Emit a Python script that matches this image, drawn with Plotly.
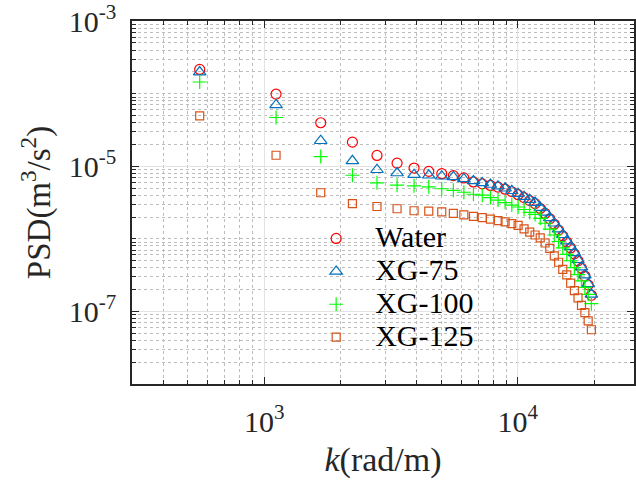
import plotly.graph_objects as go

k = [557, 1114, 1671, 2228, 2785, 3342, 3899, 4456, 5013, 5570,
     6127, 6684, 7241, 7798, 8355, 8912, 9469, 10026, 10583, 11140,
     11697, 12254, 12811, 13368, 13925, 14482, 15039, 15596, 16153, 16710,
     17267, 17824, 18381, 18938, 19495]

water = [2.16e-4, 9.88e-5, 3.98e-5, 2.15e-5, 1.41e-5, 1.105e-5, 9.45e-6, 8.52e-6, 7.91e-6, 7.43e-6,
         6.91e-6, 6.09e-6, 5.73e-6, 5.44e-6, 5.16e-6, 4.83e-6, 4.46e-6, 4.06e-6, 3.70e-6, 3.36e-6,
         3.06e-6, 2.62e-6, 2.24e-6, 1.89e-6, 1.59e-6, 1.32e-6, 1.10e-6, 9.04e-7, 7.50e-7, 6.21e-7,
         4.99e-7, 3.94e-7, 3.07e-7, 2.32e-7, 1.67e-7]

xg75 = [1.99e-4, 7.00e-5, 2.25e-5, 1.19e-5, 8.96e-6, 8.08e-6, 7.66e-6, 7.52e-6, 7.29e-6, 7.13e-6,
        6.70e-6, 6.29e-6, 5.91e-6, 5.61e-6, 5.33e-6, 4.98e-6, 4.60e-6, 4.19e-6, 3.82e-6, 3.47e-6,
        3.16e-6, 2.70e-6, 2.31e-6, 1.95e-6, 1.64e-6, 1.36e-6, 1.14e-6, 9.33e-7, 7.74e-7, 6.41e-7,
        5.15e-7, 4.07e-7, 3.17e-7, 2.39e-7, 1.72e-7]

xg100 = [1.45e-4, 4.70e-5, 1.36e-5, 7.52e-6, 5.91e-6, 5.50e-6, 5.38e-6, 5.22e-6, 4.90e-6, 4.67e-6,
         4.39e-6, 4.12e-6, 4.00e-6, 3.70e-6, 3.42e-6, 3.16e-6, 2.92e-6, 2.75e-6, 2.54e-6, 2.31e-6,
         2.17e-6, 1.92e-6, 1.64e-6, 1.36e-6, 1.13e-6, 9.19e-7, 7.50e-7, 6.12e-7, 4.99e-7, 4.01e-7,
         3.22e-7, 2.63e-7, 2.15e-7, 1.72e-7, 1.28e-7]

xg125 = [4.96e-5, 1.42e-5, 4.32e-6, 3.06e-6, 2.79e-6, 2.60e-6, 2.44e-6, 2.41e-6, 2.36e-6, 2.24e-6,
         2.14e-6, 2.04e-6, 1.96e-6, 1.87e-6, 1.78e-6, 1.71e-6, 1.62e-6, 1.53e-6, 1.37e-6, 1.24e-6,
         1.13e-6, 1.03e-6, 8.77e-7, 7.38e-7, 5.84e-7, 4.76e-7, 3.80e-7, 3.19e-7, 2.45e-7, 1.93e-7,
         1.54e-7, 1.21e-7, 9.60e-8, 7.41e-8, 5.59e-8]

series_names = ["Water", "XG-75", "XG-100", "XG-125"]
series_colors = ["#FF0000", "#0072BD", "#00FF00", "#D95319"]
series_symbols = ["circle-open", "triangle-up-open", "cross-thin-open", "square-open"]
series_sizes = [10, 11, 10, 8]

x_tickvals = [1e3, 1e4]
x_ticktext = ["10<sup>3</sup>", "10<sup>4</sup>"]
x_minor = [300, 400, 500, 600, 700, 800, 900,
           2000, 3000, 4000, 5000, 6000, 7000, 8000, 9000, 20000]
y_tickvals = [1e-3, 1e-5, 1e-7]
y_ticktext = ["10<sup>-3</sup>", "10<sup>-5</sup>", "10<sup>-7</sup>"]
y_minor = []
for e in [-8, -7, -6, -5, -4]:
    for m in range(1, 10):
        v = m * 10.0 ** e
        if not (m == 1 and e in (-7, -5)):
            y_minor.append(v)

fig = go.Figure()
data = [water, xg75, xg100, xg125]
for name, vals, col, sym, sz in zip(series_names, data, series_colors, series_symbols, series_sizes):
    fig.add_trace(go.Scatter(
        x=k, y=vals, mode="markers",
        name="<span style='font-size:30px'>" + name + "</span>",
        marker=dict(symbol=sym, size=sz, color=col, line=dict(color=col, width=1.2)),
    ))

axis_col = "#262626"
font_family = "Liberation Serif"

fig.update_layout(
    width=636, height=486,
    margin=dict(l=132, r=0, t=16, b=102),
    paper_bgcolor="white", plot_bgcolor="white",
    font=dict(family=font_family, size=30, color=axis_col),
    showlegend=True,
    legend=dict(x=0.329, y=0.46, xanchor="left", yanchor="top",
                bgcolor="rgba(0,0,0,0)", font=dict(size=23, color="#000000"),
                itemsizing="trace", itemwidth=68, tracegroupgap=0),
    xaxis=dict(
        type="log", range=[2.479, 4.458],
        tickmode="array", tickvals=x_tickvals, ticktext=x_ticktext,
        ticks="inside", ticklen=7, tickwidth=1.3, tickcolor=axis_col,
        showline=True, linecolor=axis_col, linewidth=1.5, mirror="ticks",
        showgrid=True, gridcolor="#E3E3E3", gridwidth=1,
        zeroline=False, ticklabelstandoff=10, ticklabeloverflow="allow",
        tickfont=dict(size=30),
        title=dict(text="<i>k</i>(rad/m)", font=dict(size=34), standoff=10),
        minor=dict(tickmode="array", tickvals=x_minor, ticks="inside", ticklen=4,
                   tickwidth=1, tickcolor=axis_col, showgrid=True,
                   gridcolor="#BDBDBD", griddash="dot", gridwidth=1),
    ),
    yaxis=dict(
        type="log", range=[-8, -2.998],
        tickmode="array", tickvals=y_tickvals, ticktext=y_ticktext,
        ticks="inside", ticklen=7, tickwidth=1.3, tickcolor=axis_col,
        showline=True, linecolor=axis_col, linewidth=1.5, mirror="ticks",
        showgrid=True, gridcolor="#E3E3E3", gridwidth=1,
        zeroline=False, ticklabelstandoff=8, ticklabeloverflow="allow",
        tickfont=dict(size=30),
        title=dict(text="PSD(m<sup>3</sup>/s<sup>2</sup>)", font=dict(size=33), standoff=8),
        minor=dict(tickmode="array", tickvals=y_minor, ticks="inside", ticklen=4,
                   tickwidth=1, tickcolor=axis_col, showgrid=True,
                   gridcolor="#BDBDBD", griddash="dot", gridwidth=1),
    ),
)

fig.write_html("out.html")
